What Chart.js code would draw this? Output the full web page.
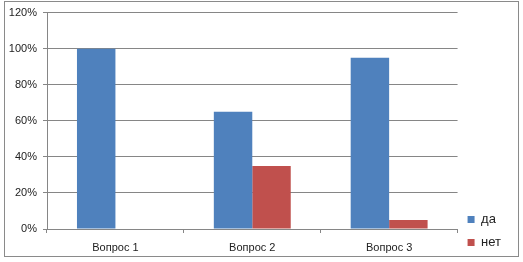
<!DOCTYPE html>
<html>
<head>
<meta charset="utf-8">
<script src="https://cdn.jsdelivr.net/npm/chart.js@4/dist/chart.umd.min.js"></script>
<style>
html,body{margin:0;padding:0;background:#fff;}
#wrap{position:relative;width:523px;height:262px;}
</style>
</head>
<body>
<div id="wrap"><canvas id="c" width="523" height="262"></canvas></div>
<script>
const categories = ["Вопрос 1", "Вопрос 2", "Вопрос 3"];
const seriesDa = [100, 65, 95];
const seriesNet = [0, 35, 5];
const seriesNames = ["да", "нет"];
const yTicks = [0, 20, 40, 60, 80, 100, 120];

const borderPlugin = {
  id: 'outerBorder',
  beforeDraw(chart) {
    const ctx = chart.ctx;
    ctx.save();
    ctx.fillStyle = '#fff';
    ctx.fillRect(0, 0, chart.width, chart.height);
    ctx.strokeStyle = '#8a8a8a';
    ctx.lineWidth = 1;
    ctx.strokeRect(4.5, 1.5, 514, 255);
    ctx.restore();
  }
};

const FONT = {family: "'Liberation Sans', Arial, sans-serif", size: 11};
const LFONT = {family: "'Liberation Sans', Arial, sans-serif", size: 13};

new Chart(document.getElementById('c'), {
  type: 'bar',
  data: {
    labels: categories,
    datasets: [
      {label: seriesNames[0], data: seriesDa, backgroundColor: '#4F81BD'},
      {label: seriesNames[1], data: seriesNet, backgroundColor: '#C0504D'}
    ]
  },
  options: {
    responsive: false,
    animation: false,
    devicePixelRatio: 1,
    layout: {padding: {left: 0, top: 11, right: 12, bottom: 3}},
    datasets: {bar: {categoryPercentage: 0.562, barPercentage: 1.0}},
    plugins: {
      legend: {
        position: 'right',
        align: 'end',
        labels: {
          boxWidth: 7, boxHeight: 7, padding: 10,
          color: '#222', font: LFONT
        }
      },
      tooltip: {enabled: false}
    },
    scales: {
      x: {
        grid: {display: true, drawOnChartArea: false, drawTicks: true, tickLength: 4, color: '#868686', offset: true},
        border: {display: true, color: '#868686'},
        ticks: {color: '#222', font: FONT, padding: 8},
        afterFit(s) { s.height = 30; }
      },
      y: {
        min: 0, max: 120,
        afterBuildTicks(s) { s.ticks = yTicks.map(v => ({value: v})); },
        grid: {color: '#868686', tickLength: 4},
        border: {display: true, color: '#868686'},
        ticks: {color: '#222', font: FONT, padding: 6, callback: v => v + '%'},
        afterFit(s) { s.width = 47; }
      }
    }
  },
  plugins: [borderPlugin]
});
</script>
</body>
</html>
